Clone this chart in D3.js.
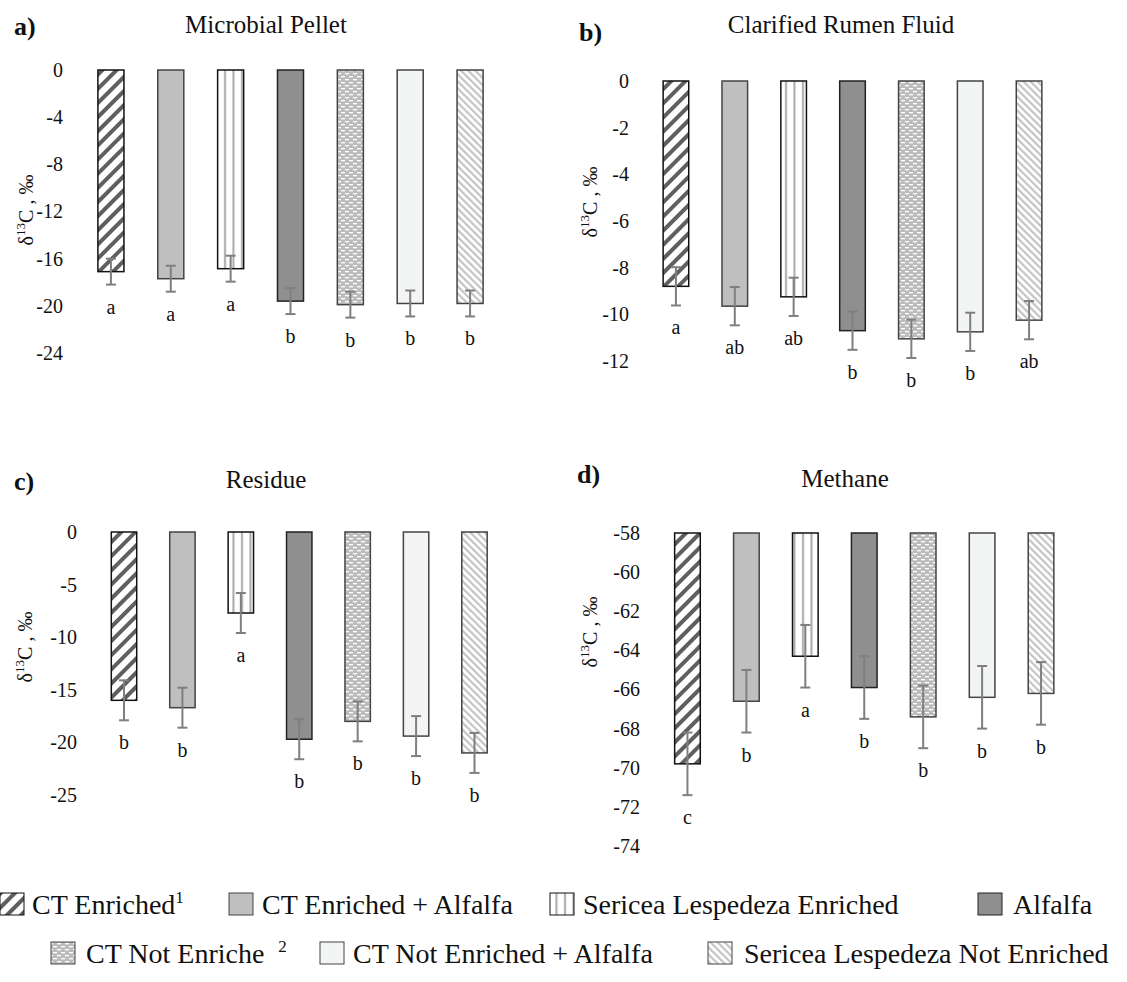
<!DOCTYPE html>
<html>
<head>
<meta charset="utf-8">
<script src="https://cdn.jsdelivr.net/npm/d3@7"></script>
<style>
  body { margin: 0; background: #fff; }
  svg text { font-family: "Liberation Serif", "Times New Roman", serif; fill: #111; }
</style>
</head>
<body>
<svg id="chart" width="1127" height="982"></svg>
<script>
// treatments (same order in every panel)
var treatments = ["CT Enriched", "CT Enriched + Alfalfa", "Sericea Lespedeza Enriched", "Alfalfa",
                  "CT Not Enriche", "CT Not Enriched + Alfalfa", "Sericea Lespedeza Not Enriched"];
var legendSup = ["1", "", "", "", "2", "", ""];

// a) Microbial Pellet
var pelletMean = [-17.1, -17.7, -16.85, -19.6, -19.9, -19.8, -19.8];
var pelletErr = [1.1, 1.1, 1.1, 1.1, 1.1, 1.1, 1.1];
var pelletLetters = ["a", "a", "a", "b", "b", "b", "b"];
var pelletTicks = [0, -4, -8, -12, -16, -20, -24];

// b) Clarified Rumen Fluid
var fluidMean = [-8.8, -9.65, -9.25, -10.7, -11.05, -10.75, -10.25];
var fluidErr = [0.82, 0.82, 0.82, 0.82, 0.82, 0.82, 0.82];
var fluidLetters = ["a", "ab", "ab", "b", "b", "b", "ab"];
var fluidTicks = [0, -2, -4, -6, -8, -10, -12];

// c) Residue
var residueMean = [-16.0, -16.7, -7.7, -19.7, -18.0, -19.4, -21.0];
var residueErr = [1.9, 1.9, 1.9, 1.9, 1.9, 1.9, 1.9];
var residueLetters = ["b", "b", "a", "b", "b", "b", "b"];
var residueTicks = [0, -5, -10, -15, -20, -25];

// d) Methane
var methaneMean = [-69.8, -66.6, -64.3, -65.9, -67.4, -66.4, -66.2];
var methaneErr = [1.6, 1.6, 1.6, 1.6, 1.6, 1.6, 1.6];
var methaneLetters = ["c", "b", "a", "b", "b", "b", "b"];
var methaneTicks = [-58, -60, -62, -64, -66, -68, -70, -72, -74];

var svg = d3.select("#chart");
var defs = svg.append("defs");

// fill patterns
function stripes(id, size, thick, angle, bg, fg) {
    var p = defs.append("pattern").attr("id", id)
        .attr("patternUnits", "userSpaceOnUse")
        .attr("width", size).attr("height", size)
        .attr("patternTransform", "rotate(" + angle + ")");
    p.append("rect").attr("width", size).attr("height", size).attr("fill", bg);
    p.append("rect").attr("width", thick).attr("height", size).attr("fill", fg);
}
stripes("pCT", 10, 4, 45, "#fff", "#5f5f5f");
stripes("pSLN", 5, 2.2, -45, "#fff", "#c4c4c4");

var pv = defs.append("pattern").attr("id", "pSL")
    .attr("patternUnits", "userSpaceOnUse").attr("width", 8.5).attr("height", 10);
pv.append("rect").attr("width", 8.5).attr("height", 10).attr("fill", "#fff");
pv.append("rect").attr("x", 3).attr("width", 2).attr("height", 10).attr("fill", "#a8a8a8");

var pd = defs.append("pattern").attr("id", "pCTN")
    .attr("patternUnits", "userSpaceOnUse").attr("width", 8).attr("height", 6);
pd.append("rect").attr("width", 8).attr("height", 6).attr("fill", "#bcbcbc");
pd.append("rect").attr("x", 1).attr("y", 1).attr("width", 4).attr("height", 1.3).attr("fill", "#fff");
pd.append("rect").attr("x", 5).attr("y", 4).attr("width", 3).attr("height", 1.3).attr("fill", "#fff");
pd.append("rect").attr("x", 0).attr("y", 4).attr("width", 1).attr("height", 1.3).attr("fill", "#fff");

var fills = ["url(#pCT)", "#bfbfbf", "url(#pSL)", "#8f8f8f", "url(#pCTN)", "#f3f5f4", "url(#pSLN)"];
var strokes = ["#111", "#444", "#111", "#222", "#444", "#444", "#444"];

var panels = [
    { mean: pelletMean, err: pelletErr, letters: pelletLetters, ticks: pelletTicks,
      title: "Microbial Pellet", tag: "a)", domain: [-24, 0],
      x0: 81, x1: 500, yTop: 70, yBot: 353, tickX: 63,
      titleX: 266, titleY: 33, tagX: 14, tagY: 35, labX: 33, labY: 210 },
    { mean: fluidMean, err: fluidErr, letters: fluidLetters, ticks: fluidTicks,
      title: "Clarified Rumen Fluid", tag: "b)", domain: [-12, 0],
      x0: 646.5, x1: 1058.5, yTop: 81, yBot: 361, tickX: 629,
      titleX: 841, titleY: 33, tagX: 579, tagY: 41, labX: 597, labY: 202 },
    { mean: residueMean, err: residueErr, letters: residueLetters, ticks: residueTicks,
      title: "Residue", tag: "c)", domain: [-25, 0],
      x0: 94.8, x1: 503.7, yTop: 532, yBot: 795, tickX: 77,
      titleX: 266, titleY: 488, tagX: 14, tagY: 490, labX: 32, labY: 647 },
    { mean: methaneMean, err: methaneErr, letters: methaneLetters, ticks: methaneTicks,
      title: "Methane", tag: "d)", domain: [-74, -58],
      x0: 658, x1: 1070.5, yTop: 533, yBot: 846, tickX: 640,
      titleX: 845, titleY: 487, tagX: 577, tagY: 483, labX: 597, labY: 632 }
];

panels.forEach(function(p) {
    var g = svg.append("g");
    var pad = 0.565;
    var x = d3.scaleBand().domain(treatments).range([p.x0, p.x1])
        .paddingInner(pad).paddingOuter(pad / 2);
    var y = d3.scaleLinear().domain(p.domain).range([p.yBot, p.yTop]);
    var base = p.domain[1];

    g.append("text").attr("x", p.titleX).attr("y", p.titleY)
        .attr("text-anchor", "middle").attr("font-size", 25).text(p.title);
    g.append("text").attr("x", p.tagX).attr("y", p.tagY)
        .attr("font-size", 26).attr("font-weight", "bold").text(p.tag);

    var lab = g.append("text")
        .attr("transform", "translate(" + p.labX + "," + p.labY + ") rotate(-90)")
        .attr("text-anchor", "middle").attr("font-size", 20);
    lab.append("tspan").text("δ");
    lab.append("tspan").attr("dy", -8).attr("font-size", 13).text("13");
    lab.append("tspan").attr("dy", 8).text("C , ‰");

    var axis = g.append("g").attr("transform", "translate(" + p.tickX + ",0)")
        .call(d3.axisLeft(y).tickValues(p.ticks).tickSize(0).tickPadding(0)
            .tickFormat(function(d) { return String(d).replace("−", "-"); }));
    axis.attr("font-family", null);
    axis.select(".domain").remove();
    axis.selectAll("text").attr("font-size", 20).attr("fill", "#111");

    var rows = treatments.map(function(t, i) {
        return { name: t, mean: p.mean[i], err: p.err[i], letter: p.letters[i], i: i };
    });

    g.selectAll("rect.bar").data(rows).enter().append("rect")
        .attr("class", "bar")
        .attr("x", function(d) { return x(d.name); })
        .attr("width", x.bandwidth())
        .attr("y", y(base))
        .attr("height", function(d) { return y(d.mean) - y(base); })
        .attr("fill", function(d) { return fills[d.i]; })
        .attr("stroke", function(d) { return strokes[d.i]; })
        .attr("stroke-width", 1.5);

    var eb = g.selectAll("g.err").data(rows).enter().append("g")
        .attr("class", "err").attr("stroke", "#7f7f7f").attr("stroke-width", 2);
    eb.append("line")
        .attr("x1", function(d) { return x(d.name) + x.bandwidth() / 2; })
        .attr("x2", function(d) { return x(d.name) + x.bandwidth() / 2; })
        .attr("y1", function(d) { return y(d.mean + d.err); })
        .attr("y2", function(d) { return y(d.mean - d.err); });
    [1, -1].forEach(function(s) {
        eb.append("line")
            .attr("x1", function(d) { return x(d.name) + x.bandwidth() / 2 - 5; })
            .attr("x2", function(d) { return x(d.name) + x.bandwidth() / 2 + 5; })
            .attr("y1", function(d) { return y(d.mean + s * d.err); })
            .attr("y2", function(d) { return y(d.mean + s * d.err); });
    });

    g.selectAll("text.letter").data(rows).enter().append("text")
        .attr("class", "letter")
        .attr("x", function(d) { return x(d.name) + x.bandwidth() / 2; })
        .attr("y", function(d) { return y(d.mean - d.err) + 29; })
        .attr("text-anchor", "middle").attr("font-size", 20)
        .text(function(d) { return d.letter; });
});

// legend
var legendPos = [
    { sx: 0, y: 893, tx: 32 }, { sx: 229, y: 893, tx: 262 }, { sx: 550, y: 893, tx: 583 },
    { sx: 978, y: 893, tx: 1013 },
    { sx: 51, y: 942, tx: 86 }, { sx: 320, y: 942, tx: 353 }, { sx: 708, y: 942, tx: 744 }
];
var leg = svg.append("g").selectAll("g").data(treatments).enter().append("g");
leg.append("rect")
    .attr("x", function(d, i) { return legendPos[i].sx; })
    .attr("y", function(d, i) { return legendPos[i].y; })
    .attr("width", 24).attr("height", 22)
    .attr("fill", function(d, i) { return fills[i]; })
    .attr("stroke", function(d, i) { return strokes[i]; })
    .attr("stroke-width", 1);
var lt = leg.append("text")
    .attr("x", function(d, i) { return legendPos[i].tx; })
    .attr("y", function(d, i) { return legendPos[i].y + 21; })
    .attr("font-size", 28);
lt.append("tspan").text(function(d) { return d; });
lt.append("tspan")
    .attr("dx", function(d, i) { return i === 4 ? 14 : 0; })
    .attr("dy", -11).attr("font-size", 17)
    .text(function(d, i) { return legendSup[i]; });
</script>
</body>
</html>
